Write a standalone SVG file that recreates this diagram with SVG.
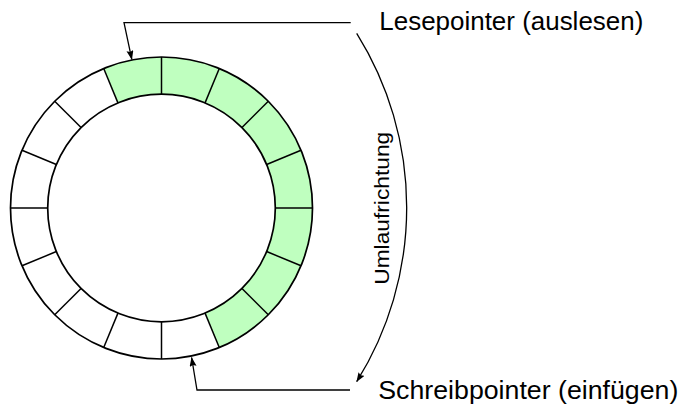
<svg xmlns="http://www.w3.org/2000/svg" width="684" height="407" viewBox="0 0 684 407">
  <style>
    .ring { fill: none; stroke: #000; stroke-width: 1.7; }
    .green { fill: #bfffbf; stroke: none; }
    .div { stroke: #000; stroke-width: 1.5; fill: none; }
    .conn { fill: none; stroke: #000; stroke-width: 1.3; }
    .lbl { font-family: "Liberation Sans", Arial, sans-serif; font-size: 26px; fill: #000; }
    .dir { font-family: "Liberation Sans", Arial, sans-serif; font-size: 21px; fill: #000; }
  </style>
  <defs>
    <marker id="ah" markerWidth="10" markerHeight="8" refX="9" refY="3.5" orient="auto" markerUnits="userSpaceOnUse">
      <path d="M0,0 L9.5,3.5 L0,7 L1.5,3.5 z" fill="#000"/>
    </marker>
  </defs>

  <g id="ringbuffer">
    <path class="green" d="M103.72,68.49 A151,151 0 0 1 301.01,150.22 A151,151 0 0 1 219.28,347.51 L205.05,313.14 A113.8,113.8 0 0 0 266.64,164.45 A113.8,113.8 0 0 0 117.95,102.86 Z"/>
    <g class="div">
      <line x1="275.3" y1="208" x2="312.5" y2="208"/>
      <line x1="266.64" y1="164.45" x2="301.01" y2="150.22"/>
      <line x1="241.97" y1="127.53" x2="268.27" y2="101.23"/>
      <line x1="205.05" y1="102.86" x2="219.28" y2="68.49"/>
      <line x1="161.5" y1="94.2" x2="161.5" y2="57"/>
      <line x1="117.95" y1="102.86" x2="103.72" y2="68.49"/>
      <line x1="81.03" y1="127.53" x2="54.73" y2="101.23"/>
      <line x1="56.36" y1="164.45" x2="21.99" y2="150.22"/>
      <line x1="47.7" y1="208" x2="10.5" y2="208"/>
      <line x1="56.36" y1="251.55" x2="21.99" y2="265.78"/>
      <line x1="81.03" y1="288.47" x2="54.73" y2="314.77"/>
      <line x1="117.95" y1="313.14" x2="103.72" y2="347.51"/>
      <line x1="161.5" y1="321.8" x2="161.5" y2="359"/>
      <line x1="205.05" y1="313.14" x2="219.28" y2="347.51"/>
      <line x1="241.97" y1="288.47" x2="268.27" y2="314.77"/>
      <line x1="266.64" y1="251.55" x2="301.01" y2="265.78"/>
    </g>
    <circle class="ring" cx="161.5" cy="208" r="151"/>
    <circle class="ring" cx="161.5" cy="208" r="113.8"/>
  </g>

  <g id="lesepointer">
    <text class="lbl" x="379.3" y="30" textLength="264" lengthAdjust="spacingAndGlyphs">Lesepointer (auslesen)</text>
  </g>
  <g id="schreibpointer">
    <text class="lbl" x="378.3" y="399.3" textLength="300" lengthAdjust="spacingAndGlyphs">Schreibpointer (einfügen)</text>
  </g>
  <g id="umlaufrichtung">
    <text class="dir" transform="translate(388.5,208.3) rotate(-90)" x="0" y="0" text-anchor="middle" textLength="153" lengthAdjust="spacingAndGlyphs">Umlaufrichtung</text>
  </g>

  <g id="connectors">
    <path class="conn" d="M350.7,22.7 L124,22.7 L131.8,59.4" marker-end="url(#ah)"/>
    <path class="conn" d="M350,390 L197,390 L191.6,357.5" marker-end="url(#ah)"/>
    <path class="conn" d="M356.7,33.3 A328.5,328.5 0 0 1 356.7,381.7" marker-end="url(#ah)"/>
  </g>
</svg>
